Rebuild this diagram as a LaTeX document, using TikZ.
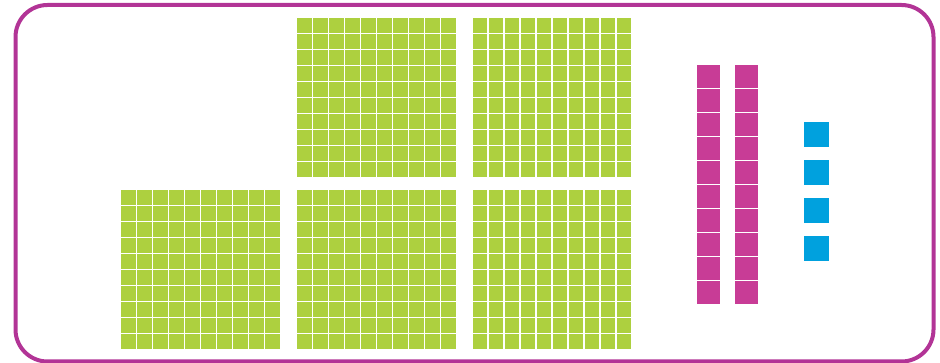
\documentclass[tikz,border=0pt]{standalone}
\definecolor{framec}{RGB}{178,52,150}
\definecolor{greenc}{RGB}{173,208,63}
\definecolor{magc}{RGB}{200,60,150}
\definecolor{bluec}{RGB}{0,161,222}
\begin{document}
\begin{tikzpicture}[x=1pt,y=-1pt,
  framebox/.style={draw=framec,line width=4pt,rounded corners=32pt},
  greencell/.style={fill=greenc},
  magcell/.style={fill=magc},
  bluecell/.style={fill=bluec}]
\useasboundingbox (0,0) rectangle (940,363);
\draw[framebox] (15.5,5) rectangle (933.5,361.5);
% hundred blocks
\foreach \bx/\by in {297/18, 472.5/18, 121/190, 297/190, 472.5/190}{
  \foreach \i in {0,...,9}{
    \foreach \j in {0,...,9}{
      \fill[greencell] (\bx+16*\i,\by+16*\j) rectangle ++(14.7,14.7);
    }
  }
}
% ten rods
\foreach \rx in {696.8, 734.5}{
  \foreach \j in {0,...,9}{
    \fill[magcell] (\rx,65+24*\j) rectangle ++(23,22.8);
  }
}
% units
\foreach \j in {0,...,3}{
  \fill[bluecell] (804,122+38*\j) rectangle ++(25,25);
}
\end{tikzpicture}
\end{document}
